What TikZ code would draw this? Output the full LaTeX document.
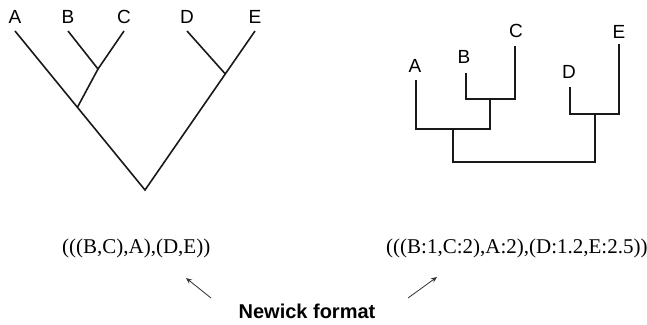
\documentclass[tikz,border=0pt]{standalone}
\usepackage{fontspec}
\setmainfont{Liberation Serif}
\setsansfont{Liberation Sans}
\usetikzlibrary{calc,arrows.meta}
\begin{document}
\begin{tikzpicture}[x=1pt,y=-1pt,
  branch/.style={line width=1.6pt, black!90},
  leaflabel/.style={inner sep=0pt, anchor=base, font=\sffamily\fontsize{19}{19}\selectfont},
  newick/.style={inner sep=0pt, anchor=base west, font=\rmfamily\fontsize{21}{21}\selectfont},
  pointer/.style={line width=0.8pt, black!80, -{Stealth[length=6pt,width=5pt]}}]
\useasboundingbox (0,0) rectangle (647,324);
% ---- left tree (cladogram)
\coordinate (lA) at (15,31);
\coordinate (lB) at (68,31);
\coordinate (lC) at (124,31);
\coordinate (lD) at (187,31);
\coordinate (lE) at (255,31);
\coordinate (lroot) at (145,190);
\coordinate (lBC) at (98,69);
\coordinate (lABC) at ($(lA)!0.48!(lroot)$);
\coordinate (lDE) at ($(lE)!0.27!(lroot)$);
\node[leaflabel] (tlA) at (15,23) {A};
\node[leaflabel] (tlB) at (68,23) {B};
\node[leaflabel] (tlC) at (124,23) {C};
\node[leaflabel] (tlD) at (187,23) {D};
\node[leaflabel] (tlE) at (255,23) {E};
\draw[branch] (lA) -- (lroot) -- (lE);
\draw[branch] (lB) -- (lBC) -- (lC);
\draw[branch] (lBC) -- (lABC);
\draw[branch] (lD) -- (lDE);
% ---- right tree (phylogram)
\coordinate (rA) at (416,80);
\coordinate (rB) at (466,73);
\coordinate (rC) at (515,46);
\coordinate (rD) at (570,87);
\coordinate (rE) at (619,44);
\coordinate (rj1) at (490,99);
\coordinate (rj2) at (453,129);
\coordinate (rj3) at (595,114);
\coordinate (rroot) at (524,162);
\node[leaflabel] (trA) at (415,72) {A};
\node[leaflabel] (trB) at (464,63) {B};
\node[leaflabel] (trC) at (516,37) {C};
\node[leaflabel] (trD) at (569,78) {D};
\node[leaflabel] (trE) at (619,38) {E};
\draw[branch] (rB) |- (rj1) -| (rC);
\draw[branch] (rA) |- (rj1 |- rj2) -- (rj1);
\draw[branch] (rD) |- (rj3) -| (rE);
\draw[branch] (rj2) |- (rj3 |- rroot) -- (rj3);
% ---- Newick strings
\node[newick] (nl) at (62,253) {(((B,C),A),(D,E))};
\node[newick] (nr) at (386,253) {(((B:1,C:2),A:2),(D:1.2,E:2.5))};
\node[inner sep=0pt, anchor=base, font=\sffamily\bfseries\fontsize{20}{20}\selectfont] (nf) at (307,318) {Newick format};
\coordinate (pl1) at (211,298);
\coordinate (pl2) at (186,278);
\coordinate (pr1) at (408,298);
\coordinate (pr2) at (437,277);
\draw[pointer] (pl1) -- (pl2);
\draw[pointer] (pr1) -- (pr2);
\end{tikzpicture}
\end{document}
